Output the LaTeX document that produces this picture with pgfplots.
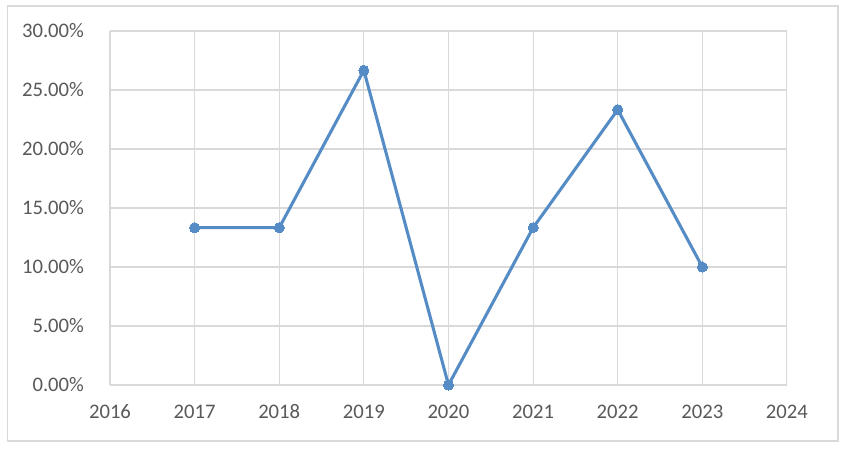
\documentclass[border=0pt]{standalone}
\usepackage{pgfplots}
\pgfplotsset{compat=1.18}
\usepackage{fontspec}
\setmainfont{Carlito}
\definecolor{linec}{RGB}{86,140,198}
\definecolor{gridc}{RGB}{217,217,217}
\definecolor{textc}{RGB}{89,89,89}
\begin{document}
\begin{tikzpicture}[x=0.75pt,y=0.75pt]
\path[fill=white] (0,0) rectangle (844,452);
\draw[gridc, line width=1.2pt] (7.5,11) rectangle (838,446);
\begin{axis}[
  at={(82.5pt,50.25pt)}, anchor=south west,
  scale only axis, width=507.75pt, height=265.5pt,
  xmin=2016, xmax=2024, ymin=0, ymax=0.30,
  xtick={2016,...,2024}, ytick={0,0.05,0.10,0.15,0.20,0.25,0.30},
  yticklabels={0.00\%,5.00\%,10.00\%,15.00\%,20.00\%,25.00\%,30.00\%},
  xticklabel style={/pgf/number format/1000 sep={}},
  /pgf/number format/assume math mode=true,
  xmajorgrids, ymajorgrids, grid style={gridc, line width=0.8pt},
  axis x line*=bottom, axis y line*=left,
  x axis line style={gridc, line width=0.8pt, -},
  y axis line style={draw=none, -},
  major tick length=0pt,
  tick label style={font=\fontsize{15.5}{18}\selectfont, text=textc},
  xticklabel style={yshift=-14pt, text height=1.6ex, text depth=0.2ex},
  yticklabel style={xshift=-16pt},
  clip=false,
]
\addplot[linec, line width=2.3pt, mark=*, mark size=3.8pt, mark options={fill=linec, draw=linec, line width=0pt}]
  coordinates {(2017,0.1333) (2018,0.1333) (2019,0.2667) (2020,0) (2021,0.1333) (2022,0.2333) (2023,0.10)};
\end{axis}
\end{tikzpicture}
\end{document}
